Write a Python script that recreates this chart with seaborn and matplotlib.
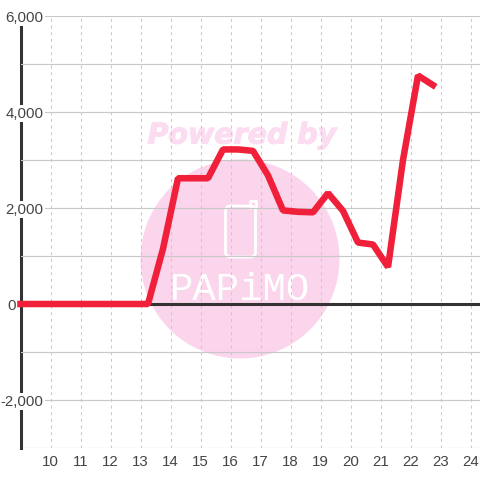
import matplotlib
matplotlib.use("Agg")
import matplotlib.pyplot as plt
import matplotlib.patheffects as pe
from matplotlib.patches import Circle, FancyBboxPatch
import pandas as pd
import seaborn as sns

hours = [9, 13.25, 13.75, 14.25, 14.75, 15.25, 15.75, 16.25, 16.75, 17.25, 17.75,
         18.25, 18.75, 19.25, 19.75, 20.25, 20.75, 21.25, 21.75, 22.25, 22.75]
values = [0, 0, 1150, 2620, 2620, 2620, 3220, 3220, 3190, 2680, 1950,
          1920, 1910, 2310, 1940, 1280, 1240, 770, 3000, 4760, 4560]
x_ticks = list(range(10, 25))
y_ticks = [-2000, 0, 2000, 4000, 6000]
y_minor = [-3000, -1000, 1000, 3000, 5000]
y_labels = ["-2,000", "", "2,000", "4,000", "6,000"]

sns.set_theme(style="white")
plt.rcParams['font.family'] = ['Liberation Sans', 'DejaVu Sans']

grid_col = "#c8c8c8"
axis_col = "#333333"
text_col = "#444444"
pink = "#fbd5ec"

fig = plt.figure(figsize=(4.8, 4.8), dpi=100, facecolor="white")

# watermark sits underneath, drawn in pixel coordinates
wm = fig.add_axes([0, 0, 1, 1], zorder=0)
wm.set_xlim(0, 480)
wm.set_ylim(480, 0)
wm.axis("off")
wm.add_patch(Circle((240, 259), 99.5, color=pink, lw=0))
wm.text(242, 135.5, "Powered by", color="#fcdcf0", family="DejaVu Sans", weight="bold",
        style="italic", fontsize=20.5, ha="center", va="center",
        path_effects=[pe.withStroke(linewidth=0.8, foreground="#fcdcf0")])
wm.add_patch(FancyBboxPatch((225.5, 206), 30, 51, boxstyle="round,pad=0,rounding_size=5",
                            fc="none", ec="white", lw=2))
wm.plot([255.5, 255.5, 250, 250], [208, 201, 201, 208], color="white", lw=2)
wm.text(240, 290, "PAPiMO", color="white", family="Liberation Mono", fontsize=28,
        ha="center", va="center")

ax = fig.add_axes([20.5 / 480, 32 / 480, 459.5 / 480, 432 / 480], zorder=1)
ax.patch.set_alpha(0)

df = pd.DataFrame({"hour": hours, "value": values})
sns.lineplot(data=df, x="hour", y="value", ax=ax, color="#f0203a", linewidth=4.7,
             errorbar=None, solid_joinstyle="bevel", solid_capstyle="projecting",
             zorder=4, clip_on=False)

ax.set_xlim(9, 9 + 459.5 / 30)
ax.set_ylim(-3000, 6000)
ax.set_xlabel("")
ax.set_ylabel("")
ax.set_xticks(x_ticks)
ax.set_yticks(y_ticks)
ax.set_yticks(y_minor, minor=True)
ax.set_yticklabels(y_labels)

ax.set_axisbelow(True)
ax.grid(True, axis="y", which="both", color=grid_col, lw=0.85)
ax.grid(True, axis="x", which="major", color=grid_col, lw=0.75, ls=(0, (2.8, 3.6)))
ax.tick_params(axis="both", which="both", length=0, labelsize=10.8, labelcolor=text_col)
ax.tick_params(axis="y", pad=-16.6)
ax.tick_params(axis="x", pad=5)
for lab in ax.get_yticklabels():
    if lab.get_text():
        lab.set_bbox(dict(facecolor="white", edgecolor="none", pad=1.2))

for side in ["top", "right", "bottom"]:
    ax.spines[side].set_visible(False)
ax.spines["left"].set_color(axis_col)
ax.spines["left"].set_linewidth(2.2)
ax.spines["left"].set_zorder(0.2)
ax.axhline(0, color=axis_col, lw=2.2, zorder=3)

# the zero label sits left of the axis, unlike the others
ax.annotate("0", xy=(0, 0), xycoords=("axes fraction", "data"), xytext=(-3.2, 0),
            textcoords="offset points", ha="right", va="center_baseline",
            fontsize=10.8, color=text_col, annotation_clip=False)

fig.savefig("out.png", dpi=100)
